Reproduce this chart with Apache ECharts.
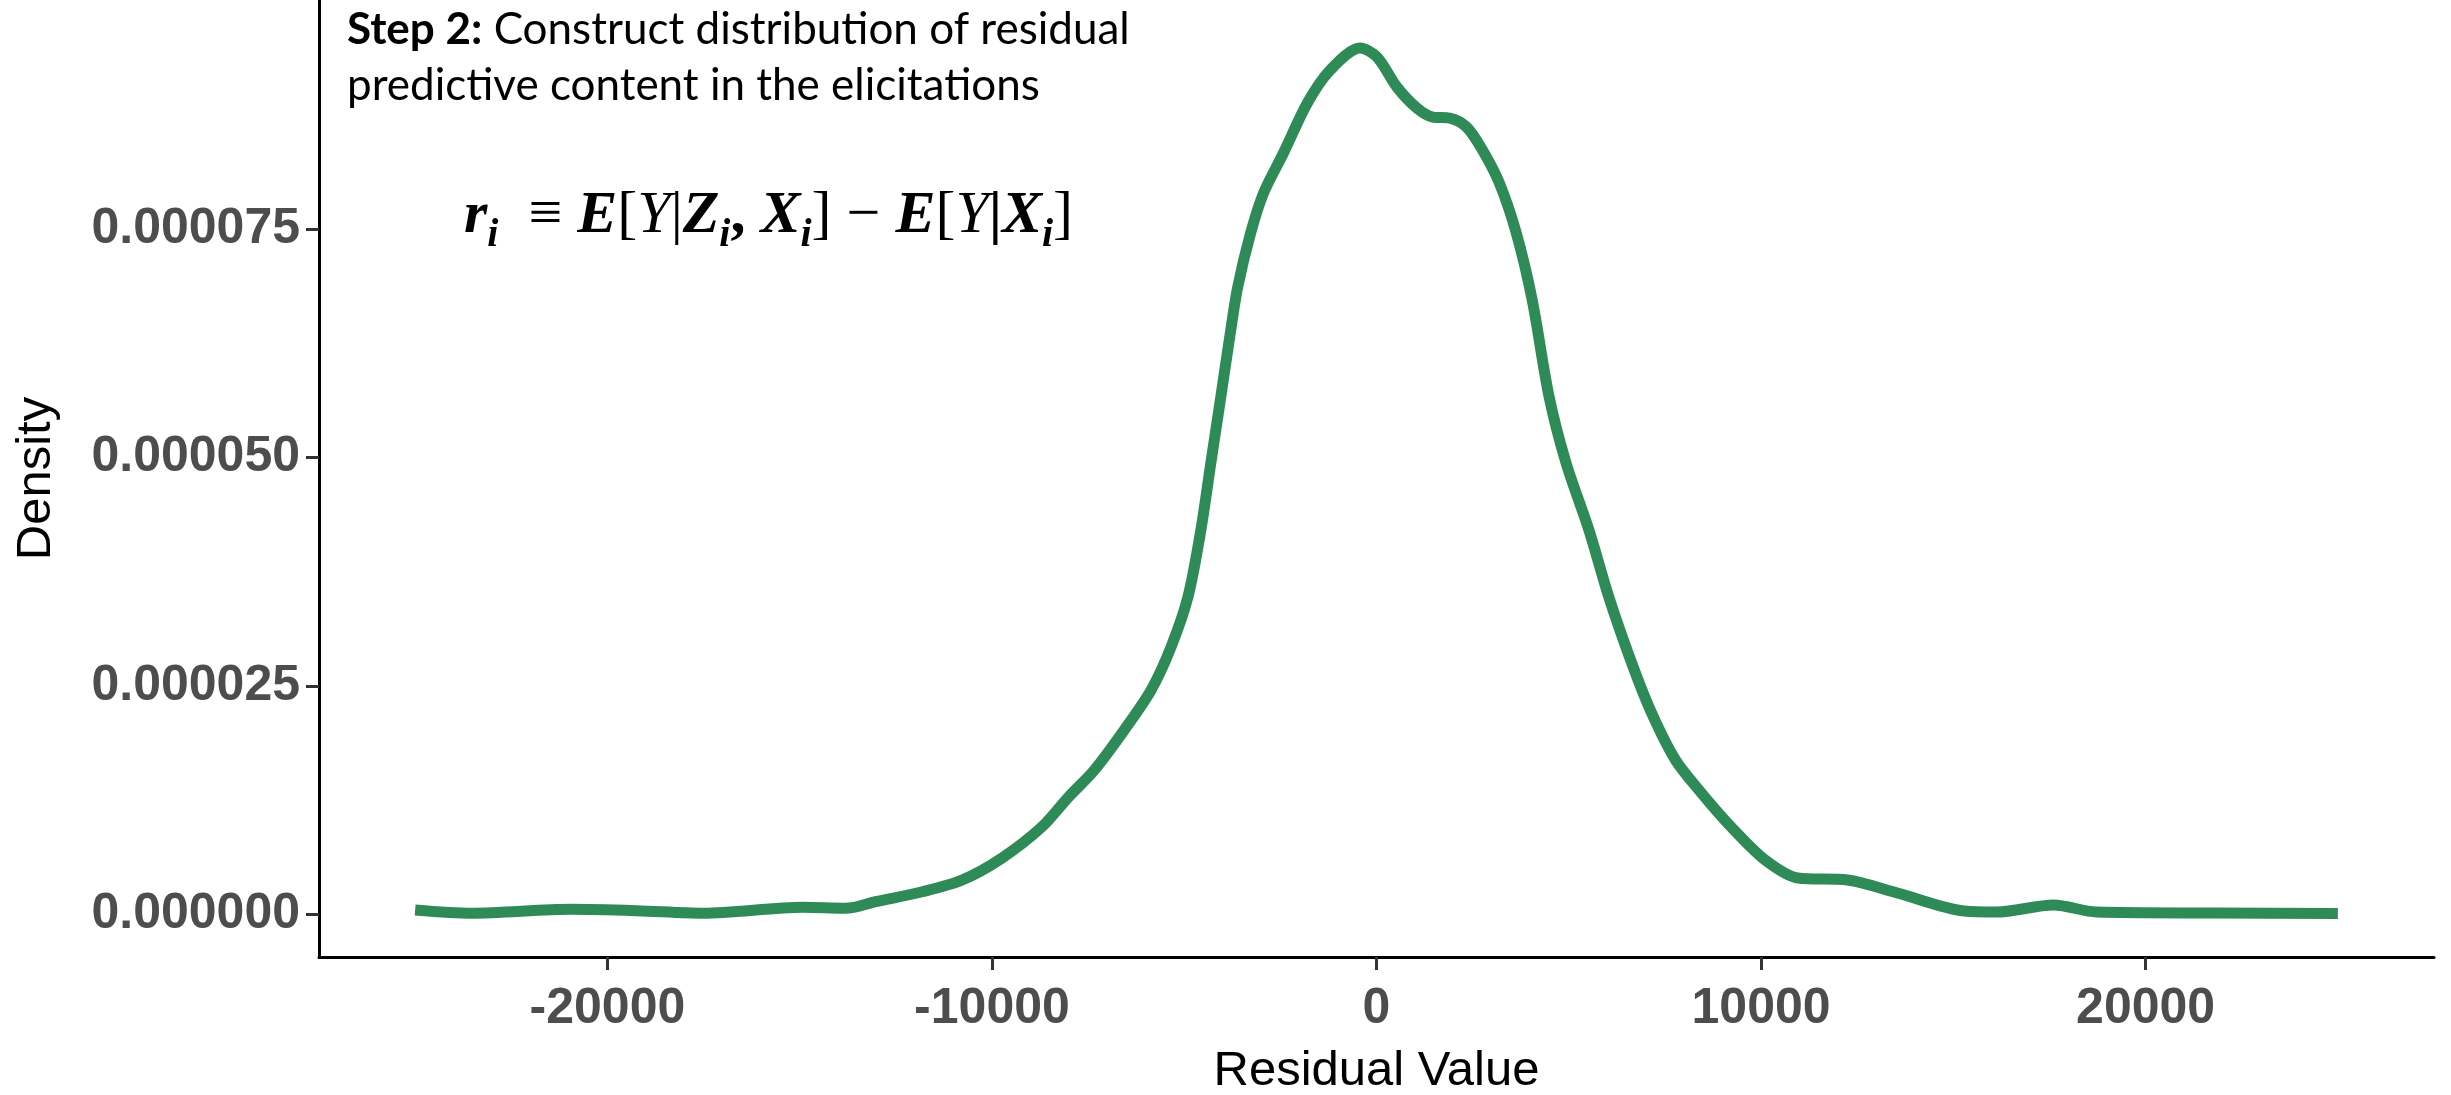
<!DOCTYPE html>
<html>
<head>
<meta charset="utf-8">
<title>Residual predictive content density</title>
<script src="https://cdn.jsdelivr.net/npm/echarts@6/dist/echarts.min.js"></script>
<style>
  html, body { margin: 0; padding: 0; background: #ffffff; }
  #chart { width: 2451px; height: 1095px; }
</style>
</head>
<body>
<div id="chart"></div>
<script>
// Kernel density of residual values r_i
const residualValues = [
  -25000, -23531, -20944, -19237, -17503, -14916, -13803, -13027, -11811, -10776,
  -9741, -8706, -8008, -7335, -6559, -5860, -5343, -4903, -4567, -4308,
  -4049, -3790, -3609, -3273, -2937, -2419, -1798, -1203, -427, 13,
  530, 1048, 1462, 1902, 2342, 2755, 3195, 3635, 4049,
  4489, 4929, 5524, 6041, 6636, 7154, 7775, 8448, 9224, 10103,
  10957, 12251, 13545, 15278, 16132, 17607, 18719, 21824, 25000
];
const densityValues = [
  4.4e-7, 0.8e-7, 5.1e-7, 3.6e-7, 0.8e-7, 7.3e-7, 6.2e-7, 1.35e-6, 2.44e-6, 3.72e-6,
  6.13e-6, 9.53e-6, 1.282e-5, 1.578e-5, 2.016e-5, 2.454e-5, 2.925e-5, 3.473e-5, 4.207e-5, 4.941e-5,
  5.664e-5, 6.398e-5, 6.869e-5, 7.46e-5, 7.899e-5, 8.337e-5, 8.885e-5, 9.246e-5, 9.487e-5, 9.388e-5,
  9.06e-5, 8.83e-5, 8.731e-5, 8.72e-5, 8.622e-5, 8.37e-5, 8.008e-5, 7.46e-5, 6.726e-5,
  5.664e-5, 4.941e-5, 4.207e-5, 3.473e-5, 2.75e-5, 2.202e-5, 1.687e-5, 1.326e-5, 9.53e-6, 5.92e-6,
  3.94e-6, 3.72e-6, 2.3e-6, 3.3e-7, 2.2e-7, 9.9e-7, 2.2e-7, 1.1e-7, 0.5e-7
];

// Tick positions
const xTicks = [-20000, -10000, 0, 10000, 20000];
const yTicks = [0, 0.000025, 0.00005, 0.000075];

const points = residualValues.map((x, i) => [x, densityValues[i]]);

const tickFont = {
  fontFamily: '"Liberation Sans", Arial, sans-serif',
  fontWeight: 'bold',
  fontSize: 50,
  color: '#4d4d4d'
};

const chart = echarts.init(document.getElementById('chart'), null, { renderer: 'canvas' });

chart.setOption({
  animation: false,
  backgroundColor: '#ffffff',
  grid: { left: 319, right: 17, top: 0, bottom: 138, containLabel: false, outerBoundsMode: 'none' },
  xAxis: {
    type: 'value',
    min: -27500,
    max: 27500,
    name: 'Residual Value',
    nameLocation: 'middle',
    nameGap: 90,
    nameTextStyle: {
      fontFamily: '"Liberation Sans", Arial, sans-serif',
      fontSize: 49,
      color: '#000000'
    },
    axisLine: { show: true, onZero: false, lineStyle: { color: '#000000', width: 3 } },
    axisTick: { show: true, length: 13, customValues: xTicks, lineStyle: { color: '#333333', width: 3 } },
    axisLabel: Object.assign({ margin: 27, customValues: xTicks, formatter: v => String(v) }, tickFont),
    splitLine: { show: false }
  },
  yAxis: {
    type: 'value',
    min: -4.71e-6,
    max: 1.0013e-4,
    name: 'Density',
    nameLocation: 'middle',
    nameGap: 258,
    nameTextStyle: {
      fontFamily: '"Liberation Sans", Arial, sans-serif',
      fontSize: 49,
      color: '#000000'
    },
    axisLine: { show: true, onZero: false, lineStyle: { color: '#000000', width: 3 } },
    axisTick: { show: true, length: 13, customValues: yTicks, lineStyle: { color: '#333333', width: 3 } },
    axisLabel: Object.assign({ margin: 19, customValues: yTicks, formatter: v => v.toFixed(6) }, tickFont),
    splitLine: { show: false }
  },
  series: [{
    type: 'line',
    data: points,
    showSymbol: false,
    smooth: 0.3,
    clip: false,
    lineStyle: { color: '#2e8b57', width: 11, cap: 'butt', join: 'round' }
  }],
  graphic: [
    {
      type: 'text',
      left: 347,
      top: 2,
      style: {
        text: '{b|Step 2:} Construct distribution of residual\npredictive content in the elicitations',
        fontFamily: 'Lato, "Open Sans", sans-serif',
        fontSize: 44,
        lineHeight: 56,
        fill: '#000000',
        rich: {
          b: { fontFamily: 'Lato, "Open Sans", sans-serif', fontSize: 44, fontWeight: 'bold', lineHeight: 56, fill: '#000000' }
        }
      }
    },
    {
      type: 'text',
      x: 464,
      y: 216,
      style: {
        text: '{bi|r}{sub|i}{n|  ≡ }{bi|E}{n|[}{it|Y}{n||}{bi|Z}{sub|i}{b|, }{bi|X}{sub|i}{n|]}{n| − }{bi|E}{n|[}{it|Y}{b||}{bi|X}{sub|i}{n|]}',
        verticalAlign: 'middle',
        align: 'left',
        fill: '#000000',
        rich: {
          bi: { fontFamily: '"Liberation Serif", "DejaVu Serif", serif', fontSize: 60, fontWeight: 'bold', fontStyle: 'italic', fill: '#000000' },
          b: { fontFamily: '"Liberation Serif", "DejaVu Serif", serif', fontSize: 60, fontWeight: 'bold', fill: '#000000' },
          it: { fontFamily: '"Liberation Serif", "DejaVu Serif", serif', fontSize: 60, fontStyle: 'italic', fill: '#000000' },
          n: { fontFamily: '"Liberation Serif", "DejaVu Serif", serif', fontSize: 60, fill: '#000000' },
          sub: { fontFamily: '"Liberation Serif", "DejaVu Serif", serif', fontSize: 40, fontWeight: 'bold', fontStyle: 'italic', padding: [40, 0, 0, 0], fill: '#000000' }
        }
      }
    }
  ]
});
</script>
</body>
</html>
